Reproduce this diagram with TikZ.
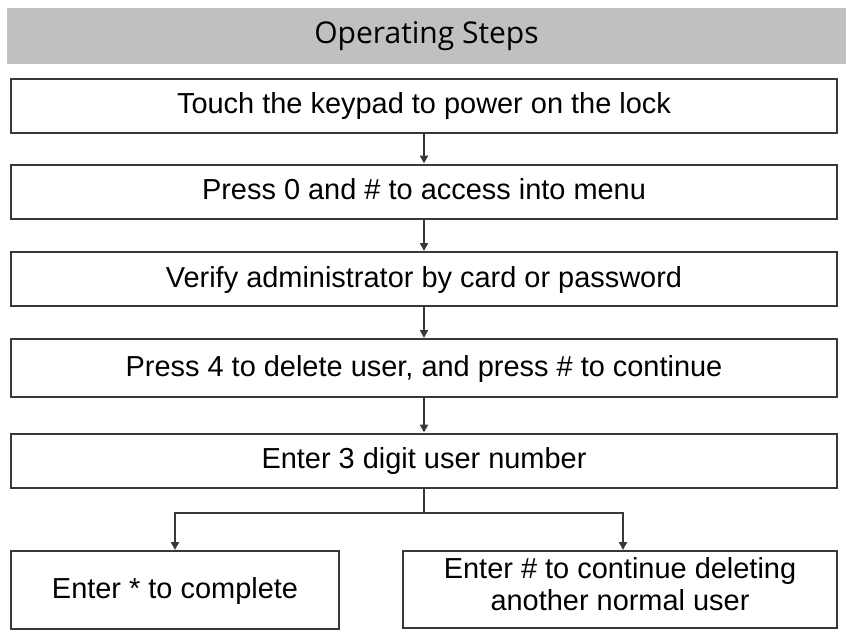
\documentclass[tikz,border=0pt]{standalone}
\usepackage{fontspec}
\setmainfont{Liberation Sans}
\newfontfamily\hdrfont{Open Sans}
\usetikzlibrary{arrows.meta,positioning}
\definecolor{linegray}{HTML}{383838}
\definecolor{bargray}{HTML}{C0C0C0}
\tikzset{
  hdr/.style={fill=bargray,inner sep=0pt,minimum width=25.17cm,minimum height=1.68cm,
              font=\hdrfont\fontsize{25.6}{28}\selectfont},
  stepbox/.style={draw=linegray,line width=0.06cm,fill=white,inner sep=0pt,
                  minimum width=24.78cm,minimum height=1.62cm,align=center,
                  text depth=0.35em,font=\fontsize{24.7}{27.2}\selectfont},
  link/.style={draw=linegray,line width=0.06cm},
  flow/.style={link,-{Triangle[length=0.24cm,width=0.24cm]}}}

\begin{document}
\begin{tikzpicture}[x=0.03cm,y=-0.03cm]
  \useasboundingbox (0,0) rectangle (846,634);
  \node[hdr] (title) at (426.5,36){Operating Steps};
  % main chain of steps
  \node[stepbox] (s1) at (424,105.5){Touch the keypad to power on the lock};
  \node[stepbox] (s2) at (424,191.5){Press 0 and \# to access into menu};
  \node[stepbox] (s3) at (424,279){Verify administrator by card or password};
  \node[stepbox,minimum height=1.74cm] (s4) at (424,368){Press 4 to delete user, and press \# to continue};
  \node[stepbox] (s5) at (424,460.5){Enter 3 digit user number};
  % the two endings
  \node[stepbox,minimum width=9.84cm,minimum height=2.34cm] (done) at (175,590){Enter * to complete};
  \node[stepbox,minimum width=13.02cm,minimum height=2.31cm,text depth=0.9em] (again) at (620,589.5)
    {Enter \# to continue deleting\\another normal user};
  \coordinate (split) at (424,513);
  \foreach \a/\b in {s1/s2,s2/s3,s3/s4,s4/s5}
    \draw[flow] (\a) -- (\b);
  \draw[link] (s5) -- (split);
  \draw[flow] (split) -| (done);
  \draw[flow] (split) -| ([xshift=0.09cm]again.north);
\end{tikzpicture}
\end{document}
